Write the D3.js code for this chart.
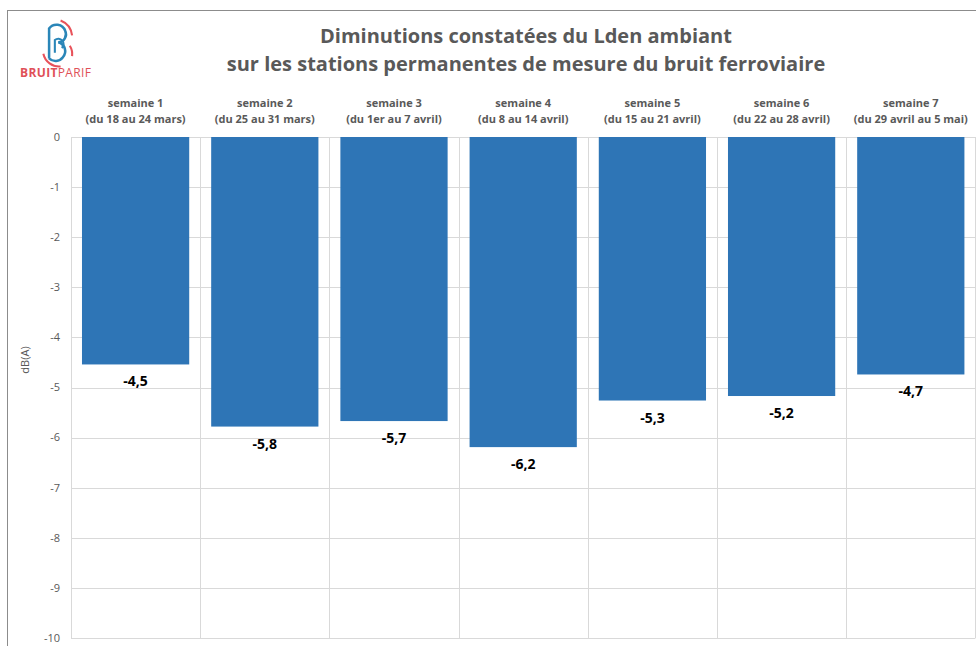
<!DOCTYPE html>
<html>
<head>
<meta charset="utf-8">
<script src="https://cdn.jsdelivr.net/npm/d3@7"></script>
<style>
  body { margin: 0; background: #fff; }
  svg { display: block; font-family: "Open Sans", "Liberation Sans", sans-serif; }
</style>
</head>
<body>
<svg width="976" height="646"></svg>
<script>
var weeks = ["semaine 1", "semaine 2", "semaine 3", "semaine 4", "semaine 5", "semaine 6", "semaine 7"];
var periods = ["(du 18 au 24 mars)", "(du 25 au 31 mars)", "(du 1er au 7 avril)", "(du 8 au 14 avril)",
               "(du 15 au 21 avril)", "(du 22 au 28 avril)", "(du 29 avril au 5 mai)"];
var values = [-4.54, -5.78, -5.67, -6.19, -5.26, -5.17, -4.74];
var yTicks = [0, -1, -2, -3, -4, -5, -6, -7, -8, -9, -10];
var titleLines = ["Diminutions constatées du Lden ambiant",
                  "sur les stations permanentes de mesure du bruit ferroviaire"];

var svg = d3.select("svg");
var grey = "#595959";

// chart frame
svg.append("rect")
    .attr("x", 7.5).attr("y", 10.5)
    .attr("width", 980).attr("height", 650)
    .style("fill", "none")
    .style("stroke", "#8c8c8c");

var plotLeft = 71, plotTop = 137, catStep = 129.2;
var x = d3.scaleBand()
    .domain(weeks)
    .range([plotLeft, plotLeft + 7 * catStep])
    .paddingInner(0.17)
    .paddingOuter(0.085);

var y = d3.scaleLinear()
    .domain([0, -10])
    .range([plotTop, 638]);

// gridlines
svg.append("g").selectAll("line")
    .data(yTicks)
  .enter().append("line")
    .attr("x1", plotLeft).attr("x2", plotLeft + 7 * catStep)
    .attr("y1", function(d) { return Math.round(y(d)) + 0.5; })
    .attr("y2", function(d) { return Math.round(y(d)) + 0.5; })
    .style("stroke", "#d9d9d9");

var step = x.step();
svg.append("g").selectAll("line")
    .data(d3.range(weeks.length + 1))
  .enter().append("line")
    .attr("x1", function(d) { return Math.round(plotLeft + d * step) + 0.5; })
    .attr("x2", function(d) { return Math.round(plotLeft + d * step) + 0.5; })
    .attr("y1", plotTop).attr("y2", y(-10))
    .style("stroke", "#d9d9d9");

// y axis labels
svg.append("g").selectAll("text")
    .data(yTicks)
  .enter().append("text")
    .attr("x", 60)
    .attr("y", function(d) { return y(d); })
    .attr("dy", "0.35em")
    .attr("text-anchor", "end")
    .style("font-size", "11px")
    .style("fill", grey)
    .text(function(d) { return d === 0 ? "0" : "-" + Math.abs(d); });

svg.append("text")
    .attr("transform", "translate(29,360) rotate(-90)")
    .attr("text-anchor", "middle")
    .style("font-size", "11px")
    .style("fill", grey)
    .text("dB(A)");

// bars
svg.append("g").selectAll("rect")
    .data(values)
  .enter().append("rect")
    .attr("x", function(d, i) { return x(weeks[i]); })
    .attr("y", y(0))
    .attr("width", x.bandwidth())
    .attr("height", function(d) { return y(d) - y(0); })
    .style("fill", "#2e75b6");

// value labels
var fmt = d3.formatLocale({decimal: ",", thousands: " ", grouping: [3], currency: ["", "€"], minus: "-"}).format(".1f");
svg.append("g").selectAll("text")
    .data(values)
  .enter().append("text")
    .attr("x", function(d, i) { return x(weeks[i]) + x.bandwidth() / 2; })
    .attr("y", function(d) { return y(d) + 22; })
    .attr("text-anchor", "middle")
    .style("font-size", "14px")
    .style("font-weight", "bold")
    .style("fill", "#000")
    .text(function(d) { return fmt(d); });

// category labels on top
var cat = svg.append("g").selectAll("g")
    .data(weeks)
  .enter().append("g");

cat.append("text")
    .attr("x", function(d) { return x(d) + x.bandwidth() / 2; })
    .attr("y", 107)
    .attr("text-anchor", "middle")
    .style("font-size", "11px")
    .style("font-weight", "bold")
    .style("fill", grey)
    .text(function(d) { return d; });

cat.append("text")
    .attr("x", function(d) { return x(d) + x.bandwidth() / 2; })
    .attr("y", 123)
    .attr("text-anchor", "middle")
    .style("font-size", "11px")
    .style("font-weight", "bold")
    .style("fill", grey)
    .text(function(d, i) { return periods[i]; });

// title
svg.append("g").selectAll("text")
    .data(titleLines)
  .enter().append("text")
    .attr("x", 526)
    .attr("y", function(d, i) { return 43 + i * 28; })
    .attr("text-anchor", "middle")
    .style("font-size", "20px")
    .style("font-weight", "bold")
    .style("fill", grey)
    .text(function(d) { return d; });

// logo
var logo = svg.append("g").attr("transform", "translate(56,40) scale(1.15)");
logo.append("path")
    .attr("d", "M-6,16 L-6,-10 A8,8 0 0 1 8,-8 A7,7 0 0 1 2,2 A8,8 0 0 1 6,15 A8,8 0 0 1 -6,16")
    .style("fill", "none").style("stroke", "#2a86b8").style("stroke-width", 2.2);
logo.append("path")
    .attr("d", "M-1,11 L-1,0 A4,4 0 0 1 5,7")
    .style("fill", "none").style("stroke", "#2a86b8").style("stroke-width", 1.8);
logo.append("path")
    .attr("d", "M4,-17 A16,16 0 0 1 14,-4")
    .style("fill", "none").style("stroke", "#e8525a").style("stroke-width", 1.8);
logo.append("path")
    .attr("d", "M-11,12 A14,14 0 0 0 4,23")
    .style("fill", "none").style("stroke", "#e8525a").style("stroke-width", 1.8);
logo.append("path")
    .attr("d", "M12,5 A14,14 0 0 1 14,14")
    .style("fill", "none").style("stroke", "#e8525a").style("stroke-width", 1.8);

var brand = svg.append("text")
    .attr("x", 20).attr("y", 77)
    .attr("textLength", 71)
    .style("font-size", "12px")
    .style("fill", "#e05058");
brand.append("tspan").style("font-weight", "bold").text("BRUIT");
brand.append("tspan").text("PARIF");
</script>
</body>
</html>
